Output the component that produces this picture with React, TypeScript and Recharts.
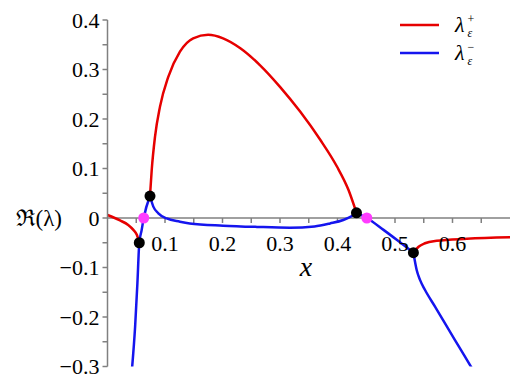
import React from 'react';
import {
  ComposedChart, Line, Scatter, XAxis, YAxis, ReferenceLine, ReferenceDot, Legend,
} from 'recharts';

// branch lambda+ (red), split at the coalescence points
const redLeft = [
  { x: 0, y: 0.006 }, { x: 0.0217, y: -0.005 }, { x: 0.036, y: -0.014 },
  { x: 0.045, y: -0.024 }, { x: 0.051, y: -0.034 }, { x: 0.0553, y: -0.05 },
];
const redArc = [
  { x: 0.0739, y: 0.0444 }, { x: 0.0769, y: 0.097 }, { x: 0.0826, y: 0.164 },
  { x: 0.0913, y: 0.225 }, { x: 0.1057, y: 0.285 }, { x: 0.126, y: 0.336 },
  { x: 0.149, y: 0.363 }, { x: 0.175, y: 0.37 }, { x: 0.201, y: 0.363 },
  { x: 0.231, y: 0.343 }, { x: 0.265, y: 0.309 }, { x: 0.3, y: 0.265 },
  { x: 0.335, y: 0.215 }, { x: 0.37, y: 0.158 }, { x: 0.399, y: 0.104 },
  { x: 0.419, y: 0.057 }, { x: 0.433, y: 0.0105 },
];
const redRight = [
  { x: 0.532, y: -0.07 }, { x: 0.541, y: -0.058 }, { x: 0.552, y: -0.051 },
  { x: 0.5725, y: -0.046 }, { x: 0.625, y: -0.042 }, { x: 0.7, y: -0.039 },
];

// branch lambda- (blue)
const blueRise = [
  { x: 0.042, y: -0.313 }, { x: 0.048, y: -0.22 }, { x: 0.052, y: -0.132 },
  { x: 0.0553, y: -0.05 }, { x: 0.0593, y: -0.025 }, { x: 0.063, y: 0 },
  { x: 0.0739, y: 0.0444 },
];
const blueDip = [
  { x: 0.0739, y: 0.0444 }, { x: 0.0797, y: 0.023 }, { x: 0.0884, y: 0.0095 },
  { x: 0.103, y: -0.001 }, { x: 0.126, y: -0.0075 }, { x: 0.143, y: -0.011 },
  { x: 0.201, y: -0.0155 }, { x: 0.26, y: -0.018 }, { x: 0.317, y: -0.0195 },
  { x: 0.36, y: -0.017 }, { x: 0.387, y: -0.011 }, { x: 0.41, y: -0.004 },
  { x: 0.425, y: 0.004 }, { x: 0.433, y: 0.0105 },
];
const blueMid = [
  { x: 0.433, y: 0.0105 }, { x: 0.451, y: 0 }, { x: 0.48, y: -0.024 },
  { x: 0.503, y: -0.044 }, { x: 0.532, y: -0.07 },
];
const blueFall = [
  { x: 0.532, y: -0.07 }, { x: 0.5377, y: -0.105 }, { x: 0.5435, y: -0.125 },
  { x: 0.552, y: -0.145 }, { x: 0.5696, y: -0.179 }, { x: 0.587, y: -0.213 },
  { x: 0.6043, y: -0.2465 }, { x: 0.6217, y: -0.28 }, { x: 0.6391, y: -0.314 },
];

const blackDots = [
  { x: 0.0553, y: -0.05 }, { x: 0.0739, y: 0.0444 },
  { x: 0.433, y: 0.0105 }, { x: 0.532, y: -0.07 },
];
const magentaDots = [{ x: 0.063, y: 0 }, { x: 0.451, y: 0 }];

const xMinorTicks = [0.05, 0.1, 0.15, 0.2, 0.25, 0.3, 0.35, 0.4, 0.45, 0.5, 0.55, 0.6, 0.65];
const xTickLabels = [0.1, 0.2, 0.3, 0.4, 0.5, 0.6];
const yTicks = [-0.3, -0.25, -0.2, -0.15, -0.1, -0.05, 0, 0.05, 0.1, 0.15, 0.2, 0.25, 0.3, 0.35, 0.4];

const RED = '#e60000';
const BLUE = '#1515ee';
const AXIS = '#808080';
const SERIF = 'Liberation Serif';

const fmtY = (v: number) => {
  const k = Math.round(v * 100);
  if (k % 10 !== 0) return '';
  if (k === 0) return '0';
  return (k < 0 ? '\u2212' : '') + (Math.abs(k) / 100).toFixed(1);
};

const dot = (color: string) => (props: any) => (
  <circle cx={props.cx} cy={props.cy} r={5.5} fill={color} />
);

// only the two named branches go in the legend
const renderLegend = ({ payload }: any) => (
  <div style={{ fontFamily: SERIF }}>
    {(payload || []).filter((p: any) => p.value === '+' || p.value === '−').map((p: any) => (
      <div key={p.value} style={{ display: 'flex', alignItems: 'center', height: 28 }}>
        <svg width={39} height={4}>
          <line x1={0} y1={2} x2={39} y2={2} stroke={p.color} strokeWidth={2.5} />
        </svg>
        <span style={{ marginLeft: 16, fontSize: 22, fontStyle: 'italic' }}>λ</span>
        <span style={{ display: 'inline-flex', flexDirection: 'column', fontSize: 12, lineHeight: '14px', marginLeft: 3, marginTop: 2 }}>
          <span>{p.value}</span>
          <span style={{ fontStyle: 'italic' }}>ε</span>
        </span>
      </div>
    ))}
  </div>
);

export default function App() {
  return (
    <div style={{ fontFamily: SERIF }}>
      <ComposedChart
        width={510}
        height={380}
        margin={{ top: 12, right: 8, bottom: 21.5, left: 39.5 }}
      >
        <XAxis type="number" dataKey="x" domain={[0, 0.7]} hide allowDataOverflow />
        <YAxis
          type="number"
          domain={[-0.3, 0.4]}
          ticks={yTicks}
          interval={0}
          allowDataOverflow
          width={60}
          stroke={AXIS}
          strokeWidth={1.5}
          tickSize={5}
          tickMargin={3}
          tickFormatter={fmtY}
          tick={{ fill: '#000', fontSize: 22, fontFamily: SERIF }}
        />
        <ReferenceLine
          y={0}
          stroke={AXIS}
          strokeWidth={1.5}
          label={{ value: 'ℜ(λ)', position: 'left', offset: 45.5, fill: '#000', fontSize: 23, fontFamily: SERIF }}
        />
        {xMinorTicks.map((t) => (
          <ReferenceLine key={'t' + t} segment={[{ x: t, y: 0 }, { x: t, y: -0.01 }]} stroke={AXIS} strokeWidth={1.5} />
        ))}
        {xTickLabels.map((t) => (
          <ReferenceDot
            key={'l' + t}
            x={t}
            y={0}
            r={1}
            fill="none"
            stroke="none"
            label={{ value: String(t), position: 'bottom', offset: 16, fill: '#000', fontSize: 22, fontFamily: SERIF }}
          />
        ))}
        <ReferenceDot
          x={0.345}
          y={0}
          r={1}
          fill="none"
          stroke="none"
          label={{ value: 'x', position: 'bottom', offset: 37, fill: '#000', fontSize: 28, fontStyle: 'italic', fontFamily: SERIF }}
        />
        <Legend
          layout="horizontal"
          verticalAlign="middle"
          align="center"
          wrapperStyle={{ top: 3, left: 392, width: 'auto' }}
          content={renderLegend}
        />
        <Line data={redLeft} dataKey="y" type="monotone" stroke={RED} strokeWidth={2.5} dot={false} legendType="none" isAnimationActive={false} />
        <Line data={redArc} dataKey="y" name="+" type="monotone" stroke={RED} strokeWidth={2.5} dot={false} isAnimationActive={false} />
        <Line data={redRight} dataKey="y" type="monotone" stroke={RED} strokeWidth={2.5} dot={false} legendType="none" isAnimationActive={false} />
        <Line data={blueRise} dataKey="y" name="−" type="monotone" stroke={BLUE} strokeWidth={2.5} dot={false} isAnimationActive={false} />
        <Line data={blueDip} dataKey="y" type="monotone" stroke={BLUE} strokeWidth={2.5} dot={false} legendType="none" isAnimationActive={false} />
        <Line data={blueMid} dataKey="y" type="monotone" stroke={BLUE} strokeWidth={2.5} dot={false} legendType="none" isAnimationActive={false} />
        <Line data={blueFall} dataKey="y" type="monotone" stroke={BLUE} strokeWidth={2.5} dot={false} legendType="none" isAnimationActive={false} />
        <Scatter data={blackDots} dataKey="y" shape={dot('#000')} legendType="none" isAnimationActive={false} />
        <Scatter data={magentaDots} dataKey="y" shape={dot('#ff3cff')} legendType="none" isAnimationActive={false} />
      </ComposedChart>
    </div>
  );
}
